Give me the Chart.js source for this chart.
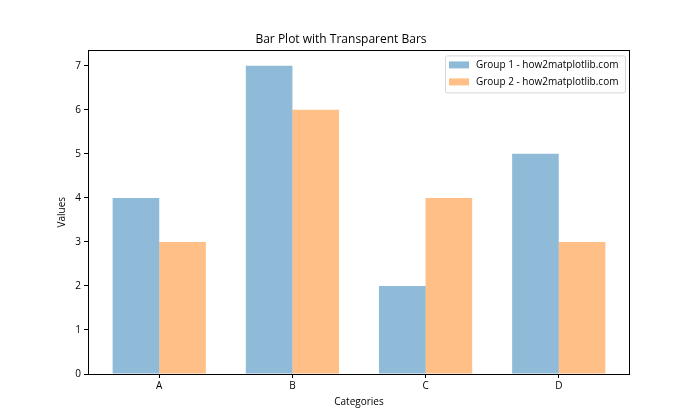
<!DOCTYPE html>
<html>
<head>
<meta charset="utf-8">
<script src="https://cdn.jsdelivr.net/npm/chart.js@4"></script>
<style>
  html, body { margin: 0; padding: 0; background: #fff; }
  #wrap { width: 700px; height: 420px; }
</style>
</head>
<body>
<div id="wrap"><canvas id="myChart" width="700" height="420"></canvas></div>
<script>
// du lieu
const categories = ["A", "B", "C", "D"];
const group1 = [4, 7, 2, 5];
const group2 = [3, 6, 4, 3];
const seriesLabels = ["Group 1 - how2matplotlib.com", "Group 2 - how2matplotlib.com"];
const yTicks = [0, 1, 2, 3, 4, 5, 6, 7];

const FONT = "'Open Sans', sans-serif";
Chart.defaults.font.family = FONT;
Chart.defaults.color = "#000";

// khung + chu giai kieu matplotlib
const framePlugin = {
  id: "frame",
  afterDraw(chart) {
    const { ctx, chartArea: a } = chart;
    ctx.save();
    ctx.strokeStyle = "#000";
    ctx.lineWidth = 1;
    ctx.strokeRect(Math.round(a.left) + 0.5, Math.round(a.top) + 0.5,
      Math.round(a.right - a.left) - 1, Math.round(a.bottom - a.top));

    // legend
    const bx = a.right - 185, by = a.top + 5, bw = 180, bh = 37;
    ctx.fillStyle = "rgba(255,255,255,0.8)";
    ctx.strokeStyle = "#d6d6d6";
    ctx.beginPath();
    ctx.roundRect(bx + 0.5, by + 0.5, bw, bh, 2);
    ctx.fill();
    ctx.stroke();
    ctx.font = "10px " + FONT;
    ctx.textBaseline = "middle";
    chart.data.datasets.forEach((ds, i) => {
      const cy = by + 9.5 + i * 17;
      ctx.fillStyle = ds.backgroundColor;
      ctx.fillRect(bx + 4, cy - 3.5, 20, 7);
      ctx.fillStyle = "#000";
      ctx.fillText(ds.label, bx + 31, cy);
    });
    ctx.restore();
  }
};

new Chart(document.getElementById("myChart").getContext("2d"), {
  type: "bar",
  data: {
    labels: categories,
    datasets: [
      { label: seriesLabels[0], data: group1, backgroundColor: "rgba(31, 119, 180, 0.5)", borderWidth: 0 },
      { label: seriesLabels[1], data: group2, backgroundColor: "rgba(255, 127, 14, 0.5)", borderWidth: 0 }
    ]
  },
  options: {
    responsive: false,
    animation: false,
    layout: { padding: { left: 52, right: 70, top: 26, bottom: 8 } },
    categoryPercentage: 0.7,
    barPercentage: 1.0,
    plugins: {
      legend: { display: false },
      tooltip: { enabled: false },
      title: {
        display: true,
        text: "Bar Plot with Transparent Bars",
        font: { size: 12, weight: "normal" },
        color: "#000",
        padding: { top: 6, bottom: 4 }
      }
    },
    scales: {
      x: {
        grid: { display: true, offset: false, drawOnChartArea: false, drawTicks: true, tickLength: 4, color: "#000" },
        border: { display: false },
        ticks: { font: { size: 10 }, color: "#000", padding: 2, maxRotation: 0 },
        title: { display: true, text: "Categories", font: { size: 10 }, color: "#000", padding: { top: 2, bottom: 4 } },
        // le 5% giong matplotlib
        afterBuildTicks(scale) {
          const n = categories.length;
          const lo = -0.35, hi = (n - 1) + 0.35;
          const m = (hi - lo) * 0.05;
          scale._startValue = lo - m;
          scale._valueRange = (hi - lo) + 2 * m;
        },
        afterFit(scale) { scale.height = 38; }
      },
      y: {
        min: 0,
        max: 7.35,
        grid: { display: true, drawOnChartArea: false, drawTicks: true, tickLength: 4, color: "#000" },
        border: { display: false },
        ticks: { stepSize: 1, font: { size: 10 }, color: "#000", padding: 3 },
        afterBuildTicks(scale) { scale.ticks = yTicks.map(v => ({ value: v })); },
        title: { display: true, text: "Values", font: { size: 10 }, color: "#000", padding: { top: 4, bottom: 4 } },
        afterFit(scale) { scale.width = 36; }
      }
    }
  },
  plugins: [framePlugin]
});
</script>
</body>
</html>
